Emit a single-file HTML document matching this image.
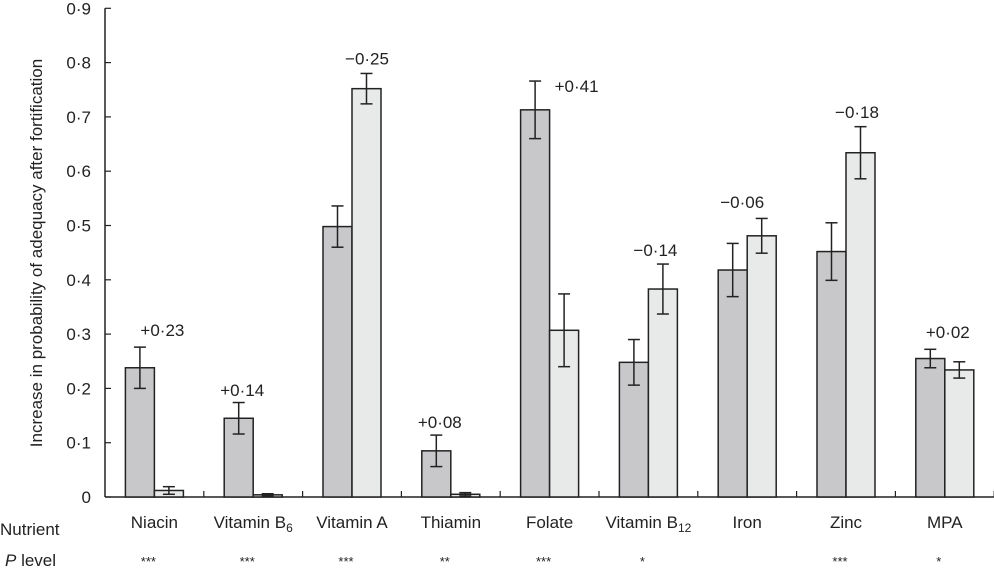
<!DOCTYPE html>
<html><head><meta charset="utf-8"><style>
html,body{margin:0;padding:0;background:#fff;}
svg{display:block;font-family:"Liberation Sans",Arial,sans-serif;}
</style></head><body>
<svg id="chart" width="994" height="579"></svg>
<script>
const categories=["Niacin","Vitamin B6","Vitamin A","Thiamin","Folate","Vitamin B12","Iron","Zinc","MPA"];
const beforeValues=[0.238,0.145,0.498,0.085,0.713,0.248,0.418,0.452,0.255];
const beforeErr=[0.038,0.029,0.038,0.029,0.053,0.042,0.049,0.053,0.017];
const afterValues=[0.012,0.004,0.752,0.005,0.307,0.383,0.481,0.634,0.234];
const afterErr=[0.007,0.002,0.028,0.003,0.067,0.046,0.032,0.048,0.015];
const diffLabels=["+0·23","+0·14","−0·25","+0·08","+0·41","−0·14","−0·06","−0·18","+0·02"];
const diffLabelY=[0.308,0.197,0.808,0.138,0.757,0.455,0.543,0.709,0.304];
const pLevels=["***","***","***","**","***","*","","***","*"];
const yTicks=[0,0.1,0.2,0.3,0.4,0.5,0.6,0.7,0.8,0.9];
const labelOffsets=[8,-11,15,-11,27,7,-5,11,3];

const NS="http://www.w3.org/2000/svg";
const svg=document.getElementById('chart');
const X0=105,GW=98.8,BW=29,Y0=497,YS=543;
const y=v=>Y0-v*YS;
const gx=i=>X0+GW*(i+0.5);
function el(t,a,p){const e=document.createElementNS(NS,t);for(const k in a)e.setAttribute(k,a[k]);(p||svg).appendChild(e);return e;}

const ya=el('line',{x1:X0,y1:y(0.9),x2:X0,y2:Y0,stroke:'#222','stroke-width':1.5});


const xa=el('line',{x1:X0,y1:Y0,x2:994,y2:Y0,stroke:'#222','stroke-width':1.5});


yTicks.forEach(t=>{
  el('line',{x1:X0,y1:y(t),x2:X0+6,y2:y(t),stroke:'#222','stroke-width':1.2});
  const tx=el('text',{x:X0-14,y:y(t)+6,'text-anchor':'end','font-size':17,fill:'#222'});
  tx.textContent=t===0?'0':t.toFixed(1).replace('.','·');
  
  
});
for(let i=1;i<=categories.length;i++){el('line',{x1:X0+GW*i,y1:Y0,x2:X0+GW*i,y2:Y0-6,stroke:'#222','stroke-width':1.2});}
const yt=el('text',{transform:'translate(42,253) rotate(-90)','text-anchor':'middle','font-size':17,fill:'#222'});
yt.textContent='Increase in probability of adequacy after fortification';



function errBar(cx,v,e){
  el('line',{x1:cx,y1:y(v+e),x2:cx,y2:y(v-e),stroke:'#222','stroke-width':1.5});
  el('line',{x1:cx-6,y1:y(v+e),x2:cx+6,y2:y(v+e),stroke:'#222','stroke-width':1.5});
  el('line',{x1:cx-6,y1:y(v-e),x2:cx+6,y2:y(v-e),stroke:'#222','stroke-width':1.5});
}
categories.forEach((c,i)=>{
  const cx=gx(i);
  const b1=el('rect',{x:cx-BW,y:y(beforeValues[i]),width:BW,height:beforeValues[i]*YS,fill:'#c8c8ca',stroke:'#222','stroke-width':1.5});
  
  
  const b2=el('rect',{x:cx,y:y(afterValues[i]),width:BW,height:afterValues[i]*YS,fill:'#e8eae9',stroke:'#222','stroke-width':1.5});
  
  
  errBar(cx-BW/2,beforeValues[i],beforeErr[i]);
  errBar(cx+BW/2,afterValues[i],afterErr[i]);
  const dl=el('text',{x:cx+labelOffsets[i],y:y(diffLabelY[i])+6,'text-anchor':'middle','font-size':17,fill:'#222'});
  dl.textContent=diffLabels[i];
  
  
  const cl=el('text',{x:cx,y:528,'text-anchor':'middle','font-size':17,fill:'#222'});
  const m=c.match(/^(Vitamin B)(\d+)$/);
  if(m){cl.textContent=m[1];const s=el('tspan',{'font-size':12,dy:4},cl);s.textContent=m[2];}
  else cl.textContent=c;
  
  
  const pl=el('text',{x:cx-6,y:566,'text-anchor':'middle','font-size':13,fill:'#222'});
  pl.textContent=pLevels[i];
  
  
});
const nt=el('text',{x:0,y:535,'font-size':17,fill:'#222'});nt.textContent='Nutrient';


const pt=el('text',{x:5,y:566,'font-size':17,fill:'#222'});
const pi=el('tspan',{'font-style':'italic'},pt);pi.textContent='P';
const pr=el('tspan',{},pt);pr.textContent=' level';


</script>
</body></html>
